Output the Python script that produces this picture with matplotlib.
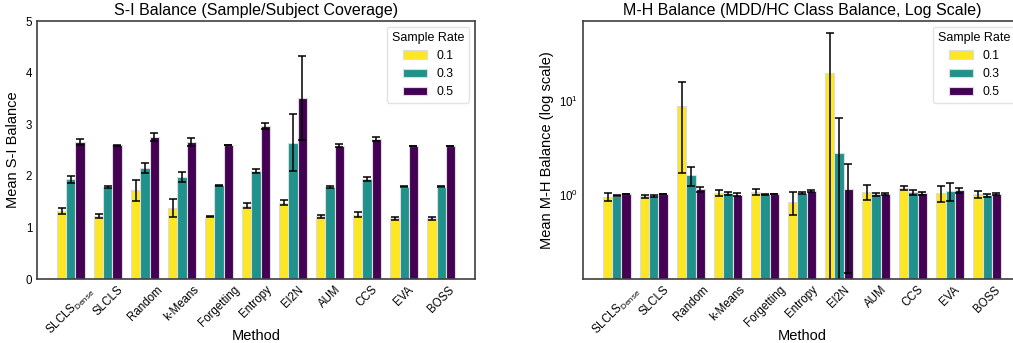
import numpy as np
import matplotlib
matplotlib.use("Agg")
import matplotlib.pyplot as plt

plt.rcParams['font.family'] = ['Liberation Sans', 'DejaVu Sans']
plt.rcParams['mathtext.fontset'] = 'custom'
plt.rcParams['mathtext.rm'] = 'Liberation Sans'
plt.rcParams['mathtext.it'] = 'Liberation Sans:italic'

methods = [r'SLCLS$_{\mathrm{Dense}}$', 'SLCLS', 'Random', 'k-Means', 'Forgetting',
           'Entropy', 'El2N', 'AUM', 'CCS', 'EVA', 'BOSS']
rates = ['0.1', '0.3', '0.5']
colors = ['#fde725', '#21918c', '#440154']

# S-I balance (mean, std) per sample rate
si_01 = [1.32, 1.22, 1.72, 1.38, 1.21, 1.42, 1.48, 1.22, 1.25, 1.18, 1.18]
si_01_err = [0.06, 0.035, 0.20, 0.18, 0.01, 0.05, 0.05, 0.03, 0.05, 0.03, 0.03]
si_03 = [1.93, 1.78, 2.15, 1.98, 1.82, 2.10, 2.64, 1.79, 1.94, 1.79, 1.79]
si_03_err = [0.07, 0.016, 0.095, 0.10, 0.01, 0.04, 0.55, 0.02, 0.04, 0.005, 0.005]
si_05 = [2.65, 2.59, 2.75, 2.65, 2.60, 2.96, 3.51, 2.58, 2.71, 2.58, 2.58]
si_05_err = [0.06, 0.005, 0.085, 0.08, 0.005, 0.06, 0.82, 0.03, 0.035, 0.005, 0.005]

# M-H balance (mean, std) per sample rate
mh_01 = [0.96, 0.97, 8.9, 1.06, 1.08, 0.85, 20.0, 1.09, 1.19, 1.05, 1.02]
mh_01_err = [0.10, 0.04, 7.2, 0.08, 0.07, 0.24, 33.3, 0.20, 0.05, 0.21, 0.09]
mh_03 = [0.98, 0.975, 1.62, 1.04, 1.02, 1.05, 2.82, 1.02, 1.07, 1.10, 0.99]
mh_03_err = [0.01, 0.02, 0.38, 0.05, 0.01, 0.03, 3.8, 0.04, 0.06, 0.24, 0.03]
mh_05 = [1.03, 1.02, 1.15, 1.01, 1.03, 1.10, 1.15, 1.02, 1.04, 1.13, 1.03]
mh_05_err = [0.005, 0.005, 0.08, 0.03, 0.005, 0.02, 1.0, 0.02, 0.04, 0.07, 0.02]

si_means = [si_01, si_03, si_05]
si_errs = [si_01_err, si_03_err, si_05_err]
mh_means = [mh_01, mh_03, mh_05]
mh_errs = [mh_01_err, mh_03_err, mh_05_err]

fig = plt.figure(figsize=(10.13, 3.43), dpi=100)
ax1 = fig.add_axes([37 / 1013, 64 / 343, 438 / 1013, 258 / 343])
ax2 = fig.add_axes([583 / 1013, 64 / 343, 438 / 1013, 258 / 343])

x = np.arange(len(methods))
width = 0.25


def grouped_bars(ax, means, errs):
    for j, (m, e) in enumerate(zip(means, errs)):
        ax.bar(x + (j - 1) * width, m, width, yerr=e, color=colors[j], label=rates[j],
               edgecolor='#dcdcdc', linewidth=0.8,
               error_kw=dict(ecolor='black', elinewidth=1.1, capsize=2.7, capthick=1.1))
    ax.set_xticks(x)
    ax.set_xticklabels(methods, rotation=45, fontsize=8.3)
    ax.tick_params(axis='both', length=0, labelsize=8.3)
    ax.set_xlabel('Method', fontsize=10.5)
    ax.xaxis.set_label_coords(0.5, -0.195)
    for s in ax.spines.values():
        s.set_color('#404040')
        s.set_linewidth(1.2)
    leg = ax.legend(title='Sample Rate', loc='upper right', fontsize=8.7,
                    title_fontsize=9, frameon=True, fancybox=True)
    leg.get_frame().set_edgecolor('#dddddd')


grouped_bars(ax1, si_means, si_errs)
ax1.set_ylim(0, 5)
ax1.set_ylabel('Mean S-I Balance', fontsize=10.5)
ax1.set_title('S-I Balance (Sample/Subject Coverage)', fontsize=11.5, pad=4)

grouped_bars(ax2, mh_means, mh_errs)
ax2.set_yscale('log')
ax2.set_ylim(0.128, 71)
ax2.minorticks_off()
ax2.set_ylabel('Mean M-H Balance (log scale)', fontsize=10.5)
ax2.set_title('M-H Balance (MDD/HC Class Balance, Log Scale)', fontsize=11.5, pad=4)

fig.savefig('out.png', dpi=100)
